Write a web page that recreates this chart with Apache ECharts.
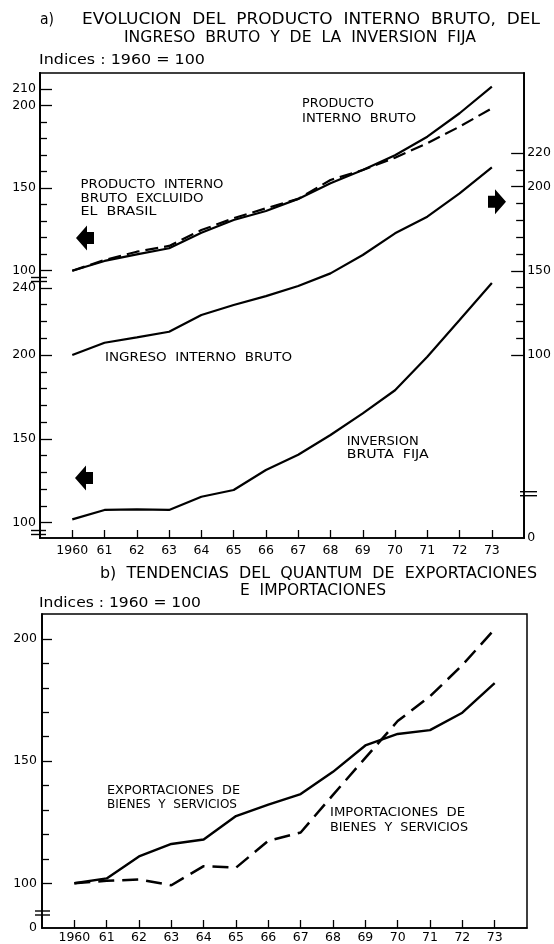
<!DOCTYPE html>
<html><head><meta charset="utf-8">
<script src="https://cdn.jsdelivr.net/npm/echarts@6/dist/echarts.min.js"></script>
<style>html,body{margin:0;padding:0;background:#fff}#c{width:554px;height:944px}</style>
</head><body><div id="c"></div>
<script>
// ---------- data ----------
const years = [1960,1961,1962,1963,1964,1965,1966,1967,1968,1969,1970,1971,1972,1973];
const pib          = [100,105.9,109.9,113.6,123.0,130.7,136.2,143.5,153.0,161.0,170.0,181.2,195.4,211.5];
const pibSinBrasil = [100,106.5,111.5,115.0,124.6,131.8,137.8,143.5,155.0,161.0,168.5,177.2,187.3,198.4];
const ingreso      = [100,107.3,110.5,113.8,123.8,129.7,135.0,141.0,148.5,159.4,172.3,182.2,196.0,211.5];
const inversion    = [102,107.6,108.0,107.6,115.5,119.5,131.4,140.5,152.3,165.2,179.0,199.0,220.9,243.0];
const exportaciones = [100,102.0,111.0,116.1,117.9,127.5,132.2,136.5,145.6,156.4,161.1,162.7,169.8,181.9];
const importaciones = [100,101.0,101.6,99.2,107.0,106.4,117.4,120.8,136.2,151.3,166.4,176.5,189.3,204.0];

const pibTickLabels = [100,150,200,210];
const pibMinorTicks = [110,120,130,140,160,170,180,190];
const invTickLabels = [100,150,200,240];
const invMinorTicks = [110,120,130,140,160,170,180,190,210,220,230];
const ingTickLabels = [100,150,200,220];
const ingMinorTicks = [110,120,130,140,160,170,180,190,210];
const botTickLabels = [100,150,200];
const botMinorTicks = [110,120,130,140,160,170,180,190];

// ---------- helpers ----------
const FONT = '"DejaVu Sans", sans-serif';
const mctx = document.createElement('canvas').getContext('2d');
function txt(str, x, y, w, size){
  mctx.font = size + 'px ' + FONT;
  const m = mctx.measureText(str).width;
  return {type:'text', x:x, y:y, scaleX: w/m, silent:true,
    style:{text:str, font: size+'px '+FONT, fill:'#000', textAlign:'left', textVerticalAlign:'middle', align:'left', verticalAlign:'middle'}};
}
function arrow(tipX, cy, dir){
  const s = dir;
  const p = [[0,0],[11,-12.5],[11,-6],[18,-6],[18,6],[11,6],[11,12.5]].map(q=>[tipX + s*q[0], cy + q[1]]);
  return {type:'polygon', silent:true, shape:{points:p}, style:{fill:'#000'}};
}
function brk(x1, x2, y){
  return [
    {type:'rect', silent:true, shape:{x:x1+3, y:y-1.5, width:x2-x1-6, height:3}, style:{fill:'#fff'}},
    {type:'line', silent:true, shape:{x1:x1, y1:y-2, x2:x2, y2:y-2}, style:{stroke:'#000', lineWidth:1.4}},
    {type:'line', silent:true, shape:{x1:x1, y1:y+2, x2:x2, y2:y+2}, style:{stroke:'#000', lineWidth:1.4}}
  ];
}
const pair = arr => years.map((y,i)=>[y, arr[i]]);
const lblStyle = {fontFamily:FONT, fontSize:12.5, color:'#000'};

function xAx(grid, margin){
  return {type:'value', gridIndex:grid, min:1959, max:1974,
    axisLine:{show:true, onZero:false, lineStyle:{color:'#000', width:1.5}},
    axisTick:{show:true, inside:true, length:8, customValues:years, lineStyle:{color:'#000', width:1.3}},
    axisLabel:Object.assign({show:true, margin:margin, customValues:years,
      formatter:v => v===1960 ? '1960' : String(v).slice(2)}, lblStyle),
    splitLine:{show:false}};
}
function yAx(grid, pos, min, max, ticks, labels, len, margin){
  return {type:'value', gridIndex:grid, position:pos, min:min, max:max,
    axisLine:{show:true, onZero:false, lineStyle:{color:'#000', width:1.5}},
    axisTick:{show:true, inside:true, length:len, customValues:ticks, lineStyle:{color:'#000', width:1.3}},
    axisLabel: labels ? Object.assign({show:true, margin:margin, customValues:labels,
      formatter:v => (Math.abs(v - min) < 1e-6 ? '0' : String(v))}, lblStyle) : {show:false},
    splitLine:{show:false}};
}

// ---------- axis ranges (layout) ----------
const PIB_MIN = -62, PIB_MAX = 219.8;
const INV_MIN = 90.88, INV_MAX = 368.2;
const ING_MIN = -8.73, ING_MAX = 267.56;
const BOT_MIN = 81.7, BOT_MAX = 210.2;

const option = {
  animation:false,
  backgroundColor:'#fff',
  grid:[
    {left:40, right:26, top:73, bottom:406, show:true, borderColor:'#000', borderWidth:1.5, backgroundColor:'transparent'},
    {left:42, right:27, top:614, bottom:13, show:true, borderColor:'#000', borderWidth:1.5, backgroundColor:'transparent'}
  ],
  xAxis:[ xAx(0, 6), xAx(1, 3) ],
  yAxis:[
    yAx(0,'left', PIB_MIN, PIB_MAX, pibTickLabels, pibTickLabels, 12, 4),
    yAx(0,'left', PIB_MIN, PIB_MAX, pibMinorTicks, null, 7),
    yAx(0,'left', INV_MIN, INV_MAX, invTickLabels, invTickLabels, 12, 4),
    yAx(0,'left', INV_MIN, INV_MAX, invMinorTicks, null, 7),
    yAx(0,'right', ING_MIN, ING_MAX, ingTickLabels, [ING_MIN].concat(ingTickLabels), 13, 3),
    yAx(0,'right', ING_MIN, ING_MAX, ingMinorTicks, null, 8),
    yAx(1,'left', BOT_MIN, BOT_MAX, botTickLabels, [BOT_MIN].concat(botTickLabels), 10, 5),
    yAx(1,'left', BOT_MIN, BOT_MAX, botMinorTicks, null, 7)
  ],
  series:[
    {name:'Producto interno bruto', type:'line', xAxisIndex:0, yAxisIndex:0, data:pair(pib), symbol:'none',
      lineStyle:{color:'#000', width:2.2}},
    {name:'Producto interno bruto excluido el Brasil', type:'line', xAxisIndex:0, yAxisIndex:0, data:pair(pibSinBrasil), symbol:'none',
      lineStyle:{color:'#000', width:2.2, type:[13,6]}},
    {name:'Ingreso interno bruto', type:'line', xAxisIndex:0, yAxisIndex:4, data:pair(ingreso), symbol:'none',
      lineStyle:{color:'#000', width:2.2}},
    {name:'Inversion bruta fija', type:'line', xAxisIndex:0, yAxisIndex:2, data:pair(inversion), symbol:'none',
      lineStyle:{color:'#000', width:2.2}},
    {name:'Exportaciones de bienes y servicios', type:'line', xAxisIndex:1, yAxisIndex:6, data:pair(exportaciones), symbol:'none',
      lineStyle:{color:'#000', width:2.4}},
    {name:'Importaciones de bienes y servicios', type:'line', xAxisIndex:1, yAxisIndex:6, data:pair(importaciones), symbol:'none',
      lineStyle:{color:'#000', width:2.5, type:[16,8]}}
  ]
};
const chart = echarts.init(document.getElementById('c'), null, {renderer:'canvas'});
chart.setOption(option);

const g = [
  txt('a)', 40, 20, 14, 15),
  txt('EVOLUCION  DEL  PRODUCTO  INTERNO  BRUTO,  DEL', 82, 20, 458, 15),
  txt('INGRESO  BRUTO  Y  DE  LA  INVERSION  FIJA', 124, 38, 352, 15),
  txt('Indices : 1960 = 100', 39, 60, 166, 14),
  txt('PRODUCTO', 302, 103.5, 72, 13),
  txt('INTERNO  BRUTO', 302, 118.5, 114, 13),
  txt('PRODUCTO  INTERNO', 80.5, 185, 143, 13),
  txt('BRUTO  EXCLUIDO', 80.5, 198.5, 123, 13),
  txt('EL  BRASIL', 80.5, 212, 76, 13),
  txt('INGRESO  INTERNO  BRUTO', 105, 357.5, 187, 13),
  txt('INVERSION', 346.7, 441.7, 72, 13),
  txt('BRUTA  FIJA', 346.7, 455, 82, 13),
  txt('b)  TENDENCIAS  DEL  QUANTUM  DE  EXPORTACIONES', 100, 574, 437, 15),
  txt('E  IMPORTACIONES', 240, 591, 146, 15),
  txt('Indices : 1960 = 100', 39, 603, 162, 14),
  txt('EXPORTACIONES  DE', 107, 791, 133, 13),
  txt('BIENES  Y  SERVICIOS', 107, 804.5, 130, 13),
  txt('IMPORTACIONES  DE', 330, 813, 135, 13),
  txt('BIENES  Y  SERVICIOS', 330, 828, 138, 13),
  arrow(76, 238, 1),
  arrow(75, 478, 1),
  arrow(506, 201.7, -1)
].concat(brk(31, 47, 279.5), brk(31, 46, 532.5), brk(520, 537, 493.7), brk(35, 50, 913));
chart.setOption({graphic:g});
</script></body></html>
